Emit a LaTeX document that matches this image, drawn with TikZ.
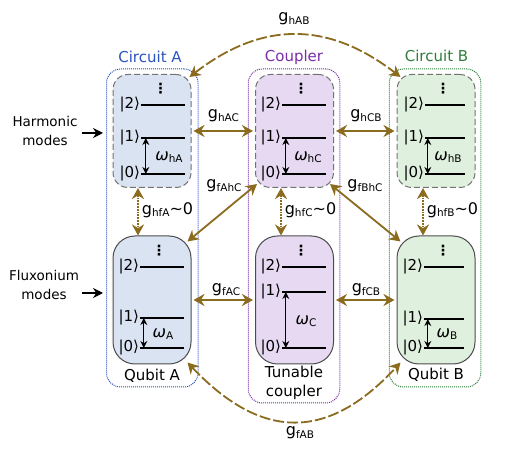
\documentclass[tikz,border=0pt]{standalone}
\usepackage{fontspec}
\setmainfont{DejaVu Sans}
\usetikzlibrary{arrows.meta}

\definecolor{brownarrow}{HTML}{8B6B1E}
\definecolor{blueA}{HTML}{2A52BE}
\definecolor{purpleC}{HTML}{7B2CA8}
\definecolor{greenB}{HTML}{2E7D3A}
\definecolor{fillA}{HTML}{DAE3F1}
\definecolor{fillC}{HTML}{E6D9F1}
\definecolor{fillB}{HTML}{DFF1DE}

\newcommand{\coup}[2]{{\fontsize{16}{16}\selectfont #1}\raisebox{-2.5pt}{\fontsize{10.5}{10}\selectfont #2}}

\tikzset{
  txt/.style={inner sep=0pt, align=center, font=\fontsize{15}{19.5}\selectfont},
  side/.style={inner sep=0pt, align=center, font=\fontsize{13.5}{19}\selectfont},
  circuit/.style={draw, densely dotted, line width=1pt, rounded corners=14pt, minimum width=91.5pt},
  harmbox/.style={draw=black!55, dash pattern=on 6pt off 3pt, line width=1pt, rounded corners=15pt, minimum width=78pt, minimum height=113pt},
  fluxbox/.style={draw=black!70, line width=1pt, rounded corners=22pt, minimum width=78pt, minimum height=128pt},
  level/.style={fill=black, inner sep=0pt, minimum height=1.8pt},
  every label/.style={inner sep=0.5pt, font=\fontsize{15}{15}\selectfont},
  gap/.style={{Stealth[length=7pt,width=7pt]}-{Stealth[length=7pt,width=7pt]}, line width=1.1pt},
  feed/.style={-{Stealth[length=10pt,width=10pt]}, line width=1.2pt, shorten >=3pt},
  link/.style={{Stealth[length=11pt,width=12pt]}-{Stealth[length=11pt,width=12pt]}, brownarrow, line width=1.8pt},
}

\begin{document}
\begin{tikzpicture}[x=1pt, y=-1pt]
\useasboundingbox (0,0) rectangle (512,457);

% dotted outlines
\node[circuit, draw=blueA, minimum height=318pt] (circA) at (152.25,228) {};
\node[circuit, draw=purpleC, minimum height=334pt] (circC) at (294,236) {};
\node[circuit, draw=greenB, minimum height=318pt] (circB) at (435,228) {};

% mode boxes
\node[harmbox, fill=fillA] (hA) at (152,131) {};
\node[harmbox, fill=fillC] (hC) at (294.5,131) {};
\node[harmbox, fill=fillB] (hB) at (436,131) {};
\node[fluxbox, fill=fillA] (fA) at (152,300) {};
\node[fluxbox, fill=fillC] (fC) at (294.5,300) {};
\node[fluxbox, fill=fillB] (fB) at (436,300) {};

% titles
\node[txt, text=blueA] (titleA) at (150,57) {Circuit A};
\node[txt, text=purpleC] (titleC) at (294,57) {Coupler};
\node[txt, text=greenB] (titleB) at (436.5,56) {Circuit B};
\node[side] (harm) at (45,130.5) {Harmonic\\modes};
\node[side] (flux) at (44,285) {Fluxonium\\modes};
\node[txt] (nameA) at (152,376) {Qubit A};
\node[txt] (nameC) at (294,383) {Tunable\\coupler};
\node[txt] (nameB) at (436,375) {Qubit B};

\draw[feed] ([shift={(4,2.5)}]harm.east) -- ([yshift=-2.5pt]harm.east -| circA.west);
\draw[feed] ([shift={(3,8)}]flux.east) -- ([yshift=-8pt]flux.east -| circA.west);

% levels, harmonic
\node[level, minimum width=44pt, label=left:{|2⟩}] (hA2) at (163,105) {};
\node[level, minimum width=44pt, label=left:{|1⟩}] (hA1) at (163,138) {};
\node[level, minimum width=44pt, minimum height=2.4pt, label=left:{|0⟩}] (hA0) at (163,174) {};
\node[level, minimum width=44pt, label=left:{|2⟩}] (hC2) at (304,105) {};
\node[level, minimum width=44pt, label=left:{|1⟩}] (hC1) at (304,138) {};
\node[level, minimum width=44pt, minimum height=2.4pt, label=left:{|0⟩}] (hC0) at (304,174) {};
\node[level, minimum width=40pt, label=left:{|2⟩}] (hB2) at (445,105) {};
\node[level, minimum width=40pt, label=left:{|1⟩}] (hB1) at (445,138) {};
\node[level, minimum width=40pt, minimum height=2.4pt, label=left:{|0⟩}] (hB0) at (445,174) {};

% levels, fluxonium
\node[level, minimum width=44pt, label=left:{|2⟩}] (fA2) at (162,267) {};
\node[level, minimum width=44pt, label=left:{|1⟩}] (fA1) at (162,318) {};
\node[level, minimum width=44pt, label=left:{|0⟩}] (fA0) at (162,348) {};
\node[level, minimum width=44pt, label=left:{|2⟩}] (fC2) at (304,267) {};
\node[level, minimum width=44pt, label=left:{|1⟩}] (fC1) at (304,292) {};
\node[level, minimum width=44pt, label=left:{|0⟩}] (fC0) at (304,348) {};
\node[level, minimum width=40pt, label=left:{|2⟩}] (fB2) at (444,267) {};
\node[level, minimum width=40pt, label=left:{|1⟩}] (fB1) at (444,319) {};
\node[level, minimum width=40pt, label=left:{|0⟩}] (fB0) at (444,348) {};

% dots
\node[txt, font=\fontsize{14}{14}\bfseries] (dotshA) at (160.5,89) {⋮};
\node[txt, font=\fontsize{14}{14}\bfseries] (dotshC) at (301,89) {⋮};
\node[txt, font=\fontsize{14}{14}\bfseries] (dotshB) at (443,89) {⋮};
\node[txt, font=\fontsize{14}{14}\bfseries] (dotsfA) at (159,251) {⋮};
\node[txt, font=\fontsize{14}{14}\bfseries] (dotsfC) at (301,251) {⋮};
\node[txt, font=\fontsize{14}{14}\bfseries] (dotsfB) at (443,251) {⋮};

% transition arrows
\draw[gap] ([xshift=5pt]hA1.west) -- ([xshift=5pt]hA0.west);
\draw[gap] ([xshift=4pt]hC1.west) -- ([xshift=4pt]hC0.west);
\draw[gap] ([xshift=3pt]hB1.west) -- ([xshift=3pt]hB0.west);
\draw[gap] ([xshift=4pt]fA1.west) -- ([xshift=4pt]fA0.west);
\draw[gap] ([xshift=4pt]fC1.west) -- ([xshift=4pt]fC0.west);
\draw[gap] ([xshift=4pt]fB1.west) -- ([xshift=4pt]fB0.west);
\node[txt] (omhA) at (169,157) {\coup{\textit{ω}}{hA}};
\node[txt] (omhC) at (308,157) {\coup{\textit{ω}}{hC}};
\node[txt] (omhB) at (448,157) {\coup{\textit{ω}}{hB}};
\node[txt] (omfA) at (163,334) {\coup{\textit{ω}}{A}};
\node[txt] (omfC) at (306,321) {\coup{\textit{ω}}{C}};
\node[txt] (omfB) at (447,334) {\coup{\textit{ω}}{B}};

% couplings
\draw[link] ([xshift=2pt]fA.east) -- ([xshift=-2pt]fC.west);
\draw[link] ([xshift=2pt]fC.east) -- ([xshift=-2pt]fB.west);
\draw[link] ([xshift=2pt]hA.east) -- ([xshift=-2pt]hC.west);
\draw[link] ([xshift=2pt]hC.east) -- ([xshift=-2pt]hB.west);
\draw[link] ([shift={(-4,6)}]fA.north east) -- ([shift={(2,-4)}]hC.south west);
\draw[link] ([shift={(4,6)}]fB.north west) -- ([shift={(-4,-4)}]hC.south east);
\draw[link, densely dotted] ([xshift=-14pt]hA.south) -- ([xshift=-14pt]fA.north);
\draw[link, densely dotted] ([xshift=-13.5pt]hC.south) -- ([xshift=-13.5pt]fC.north);
\draw[link, densely dotted] ([xshift=-13pt]hB.south) -- ([xshift=-13pt]fB.north);
\draw[link, dash pattern=on 11pt off 3pt] ([shift={(-2,3)}]hA.north east) .. controls (262,21) and (328,21) .. ([shift={(4,3)}]hB.north west);
\draw[link, dash pattern=on 11pt off 3pt] ([shift={(-4,-2)}]fA.south east) .. controls (262,441) and (328,441) .. ([shift={(4,-2)}]fB.south west);

% coupling labels
\node[txt] (ghAB) at (294,19) {\coup{g}{hAB}};
\node[txt] (gfAB) at (300,433) {\coup{g}{fAB}};
\node[txt] (ghAC) at (223.5,116) {\coup{g}{hAC}};
\node[txt] (ghCB) at (366,116) {\coup{g}{hCB}};
\node[txt] (gfAC) at (226,290) {\coup{g}{fAC}};
\node[txt] (gfCB) at (366,290) {\coup{g}{fCB}};
\node[txt] (gfAhC) at (224,186) {\coup{g}{fAhC}};
\node[txt] (gfBhC) at (365,186) {\coup{g}{fBhC}};
\node[txt] (ghfA) at (167.5,210) {\coup{g}{hfA}{\fontsize{16}{16}\selectfont ∼0}};
\node[txt] (ghfC) at (310.5,210) {\coup{g}{hfC}{\fontsize{16}{16}\selectfont ∼0}};
\node[txt] (ghfB) at (452.5,210) {\coup{g}{hfB}{\fontsize{16}{16}\selectfont ∼0}};

\end{tikzpicture}
\end{document}
